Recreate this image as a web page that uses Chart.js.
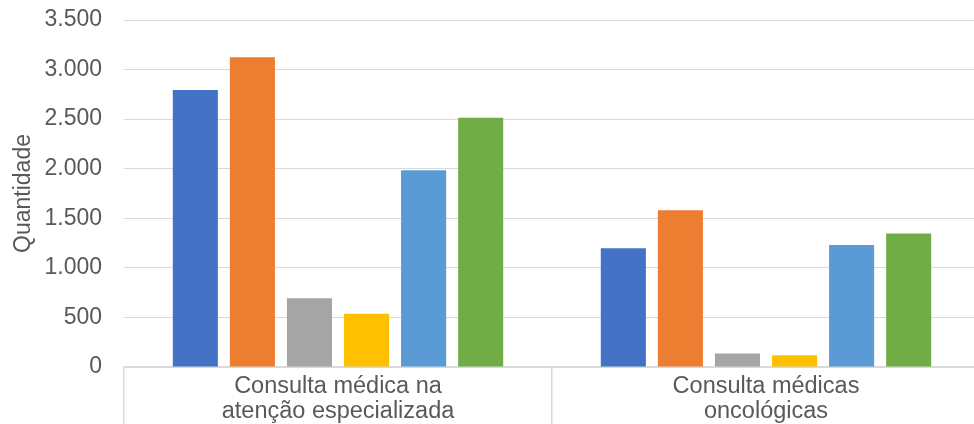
<!DOCTYPE html>
<html>
<head>
<meta charset="utf-8">
<script src="https://cdn.jsdelivr.net/npm/chart.js@4.4.1/dist/chart.umd.min.js"></script>
<style>
  html, body { margin: 0; padding: 0; background: #ffffff; overflow: hidden; }
  #wrap { width: 974px; height: 424px; overflow: hidden; position: relative; }
  canvas { display: block; }
</style>
</head>
<body>
<div id="wrap"><canvas id="c" width="980" height="440"></canvas></div>
<script>
const categories = [
  ["Consulta médica na", "atenção especializada"],
  ["Consulta médicas", "oncológicas"]
];
const seriesNames = ["Série 1", "Série 2", "Série 3", "Série 4", "Série 5", "Série 6"];
const seriesColors = ["#4472C4", "#ED7D31", "#A5A5A5", "#FFC000", "#5B9BD5", "#70AD47"];
const serie1 = [2795, 1197];
const serie2 = [3125, 1580];
const serie3 = [693, 135];
const serie4 = [538, 118];
const serie5 = [1985, 1230];
const serie6 = [2515, 1347];
const yTicks = [0, 500, 1000, 1500, 2000, 2500, 3000, 3500];
const yTitle = "Quantidade";

const allSeries = [serie1, serie2, serie3, serie4, serie5, serie6];

function fmt(v) {
  return String(Math.round(v)).replace(/\B(?=(\d{3})+(?!\d))/g, ".");
}

const FONT = "'Liberation Sans', Arial, sans-serif";
const GRID = "#d9d9d9";
const TEXT = "#595959";

new Chart(document.getElementById("c"), {
  type: "bar",
  data: {
    labels: categories,
    datasets: allSeries.map((d, i) => ({
      label: seriesNames[i],
      data: d,
      backgroundColor: seriesColors[i],
      borderWidth: 0,
      categoryPercentage: 0.8,
      barPercentage: 0.79
    }))
  },
  options: {
    responsive: false,
    animation: false,
    devicePixelRatio: 1,
    layout: { padding: { top: 20, right: 0, bottom: 0, left: 0 } },
    plugins: {
      legend: { display: false },
      tooltip: { enabled: false }
    },
    scales: {
      x: {
        grid: {
          offset: true,
          drawOnChartArea: false,
          drawTicks: true,
          tickLength: 70,
          color: GRID,
          lineWidth: 1.5
        },
        border: { display: true, color: GRID, width: 1.5 },
        ticks: {
          color: TEXT,
          font: { family: FONT, size: 23.5, lineHeight: "25px" },
          padding: -63,
          maxRotation: 0,
          autoSkip: false
        },
        afterFit: (s) => { s.height = 73; s.paddingLeft = 0; s.paddingRight = 0; }
      },
      y: {
        min: 0,
        max: 3500,
        afterBuildTicks: (s) => { s.ticks = yTicks.map(v => ({ value: v })); },
        grid: { color: GRID, lineWidth: 1, drawTicks: false },
        border: { display: false },
        ticks: {
          color: TEXT,
          font: { family: FONT, size: 23 },
          padding: 22,
          callback: (v) => fmt(v)
        },
        title: {
          display: true,
          text: yTitle,
          color: TEXT,
          font: { family: FONT, size: 23 },
          padding: { top: 10, bottom: 0 }
        },
        afterFit: (s) => { s.width = 124; s.paddingTop = 0; s.paddingBottom = 0; }
      }
    }
  }
});
</script>
</body>
</html>
